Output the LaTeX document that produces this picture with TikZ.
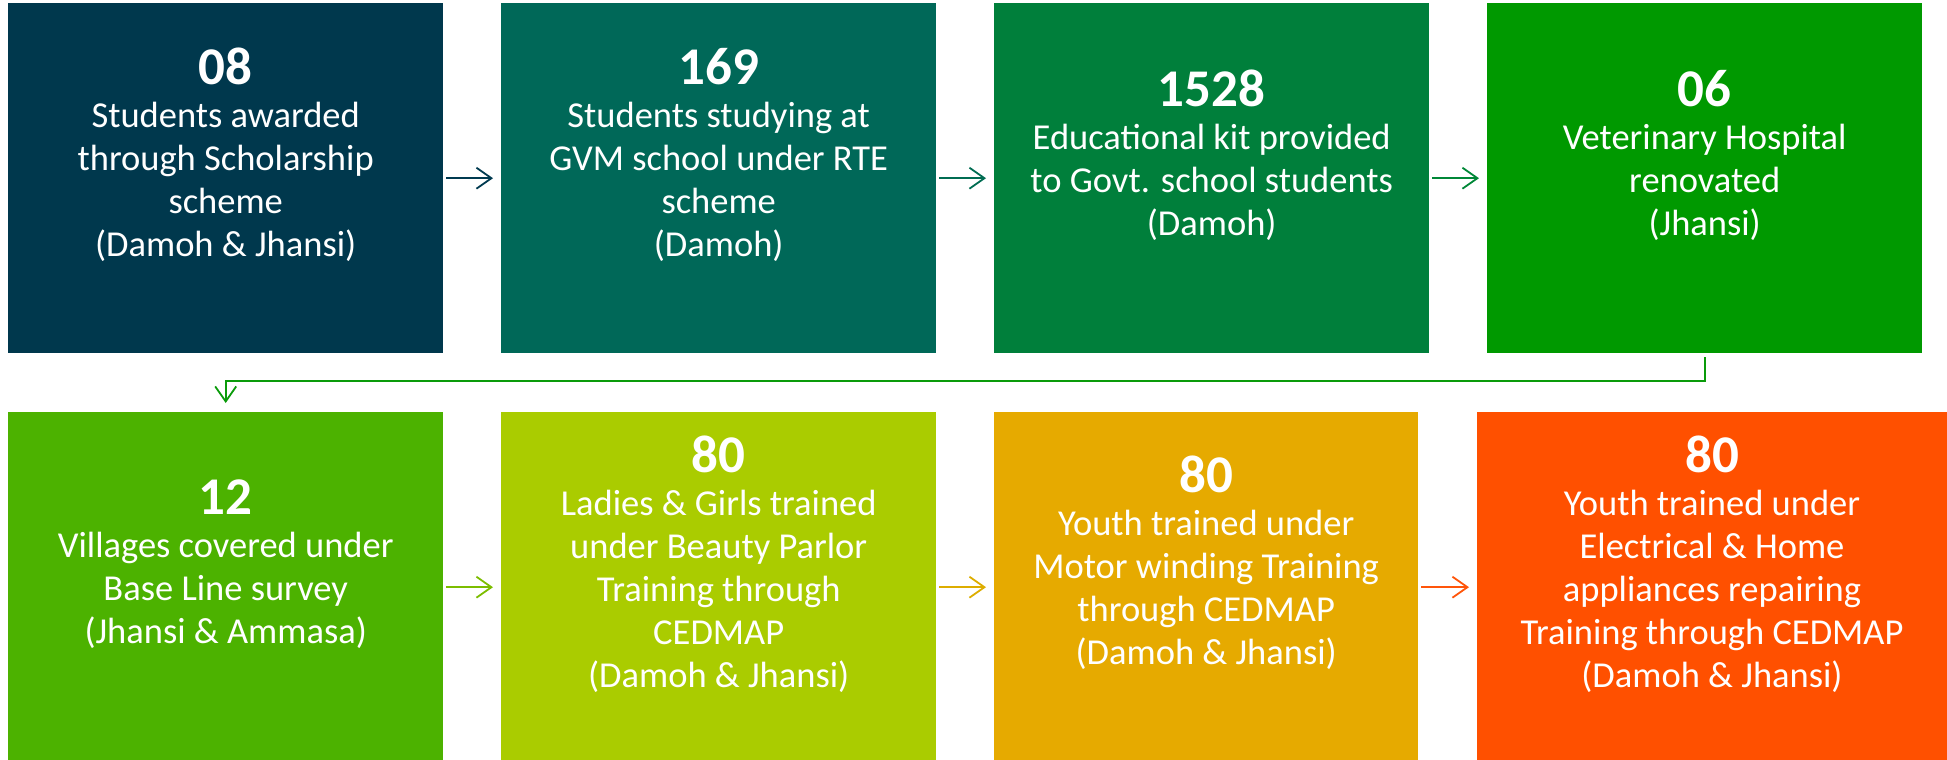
\documentclass[tikz,border=0pt]{standalone}
\usepackage{fontspec}
\setmainfont{Carlito}
\usetikzlibrary{arrows.meta}
\definecolor{c1}{RGB}{0,56,77}
\definecolor{c2}{RGB}{0,104,88}
\definecolor{c3}{RGB}{0,127,59}
\definecolor{c4}{RGB}{0,153,0}
\definecolor{c5}{RGB}{76,178,0}
\definecolor{c6}{RGB}{170,204,0}
\definecolor{c7}{RGB}{230,170,0}
\definecolor{c8}{RGB}{255,80,0}
\definecolor{a1}{RGB}{0,58,80}
\definecolor{a2}{RGB}{0,108,82}
\definecolor{a3}{RGB}{0,135,55}
\definecolor{a4}{RGB}{10,155,10}
\definecolor{a5}{RGB}{124,189,0}
\definecolor{a6}{RGB}{221,173,0}
\definecolor{a7}{RGB}{255,85,10}
\tikzset{
  box/.style={rectangle, draw=none, inner sep=0pt, anchor=north west},
  toprow/.style={box, minimum width=435pt, minimum height=350pt},
  botrow/.style={box, minimum height=350pt},
  txt/.style={text=white, align=center, inner sep=0pt, anchor=north, font=\fontsize{36.5}{43}\selectfont},
  arr/.style={line width=1.8pt, -{Straight Barb[length=15pt, width=21pt, line width=1.8pt]}, shorten <=3pt, shorten >=8pt}
}
\newcommand{\bignum}[1]{{\fontsize{53}{43}\selectfont\bfseries #1}}
\begin{document}
\begin{tikzpicture}[x=1pt, y=-1pt]
\useasboundingbox (0,0) rectangle (1947,760);
% top row
\node[toprow, fill=c1] (b1) at (8,3) {};
\node[toprow, fill=c2] (b2) at (501,3) {};
\node[toprow, fill=c3] (b3) at (994,3) {};
\node[toprow, fill=c4] (b4) at (1487,3) {};
% bottom row
\node[botrow, fill=c5, minimum width=435pt] (b5) at (8,412) {};
\node[botrow, fill=c6, minimum width=435pt] (b6) at (501,412) {};
\node[botrow, fill=c7, minimum width=424pt] (b7) at (994,412) {};
\node[botrow, fill=c8, minimum width=480pt] (b8) at (1477,412) {};
% texts
\node[txt] (t1) at (b1.north |- 0,48) {\bignum{08}\\Students awarded\\through Scholarship\\scheme\\(Damoh \& Jhansi)};
\node[txt] (t2) at (b2.north |- 0,48) {\bignum{169}\\Students studying at\\GVM school under RTE\\scheme\\(Damoh)};
\node[txt] (t3) at (b3.north |- 0,70) {\bignum{1528}\\Educational kit provided\\to Govt. school students\\(Damoh)};
\node[txt] (t4) at (b4.north |- 0,70) {\bignum{06}\\Veterinary Hospital\\renovated\\(Jhansi)};
\node[txt] (t5) at (b5.north |- 0,480) {\bignum{12}\\Villages covered under\\Base Line survey\\(Jhansi \& Ammasa)};
\node[txt] (t6) at (b6.north |- 0,436) {\bignum{80}\\Ladies \& Girls trained\\under Beauty Parlor\\Training through\\CEDMAP\\(Damoh \& Jhansi)};
\node[txt] (t7) at (b7.north |- 0,456) {\bignum{80}\\Youth trained under\\Motor winding Training\\through CEDMAP\\(Damoh \& Jhansi)};
\node[txt] (t8) at (1712,436) {\bignum{80}\\Youth trained under\\Electrical \& Home\\appliances repairing\\Training through CEDMAP\\(Damoh \& Jhansi)};
% connectors
\draw[arr, a1] (b1.east) -- (b2.west);
\draw[arr, a2] (b2.east) -- (b3.west);
\draw[arr, a3] (b3.east) -- (b4.west);
\coordinate (bend) at (b4.south |- 0,381);
\draw[arr, a4, shorten <=4pt, shorten >=9pt] (b4.south) -- (bend) -| (b5.north);
\draw[arr, a5] (b5.east) -- (b6.west);
\draw[arr, a6] (b6.east) -- (b7.west);
\draw[arr, a7] (b7.east) -- (b8.west);
\end{tikzpicture}
\end{document}
